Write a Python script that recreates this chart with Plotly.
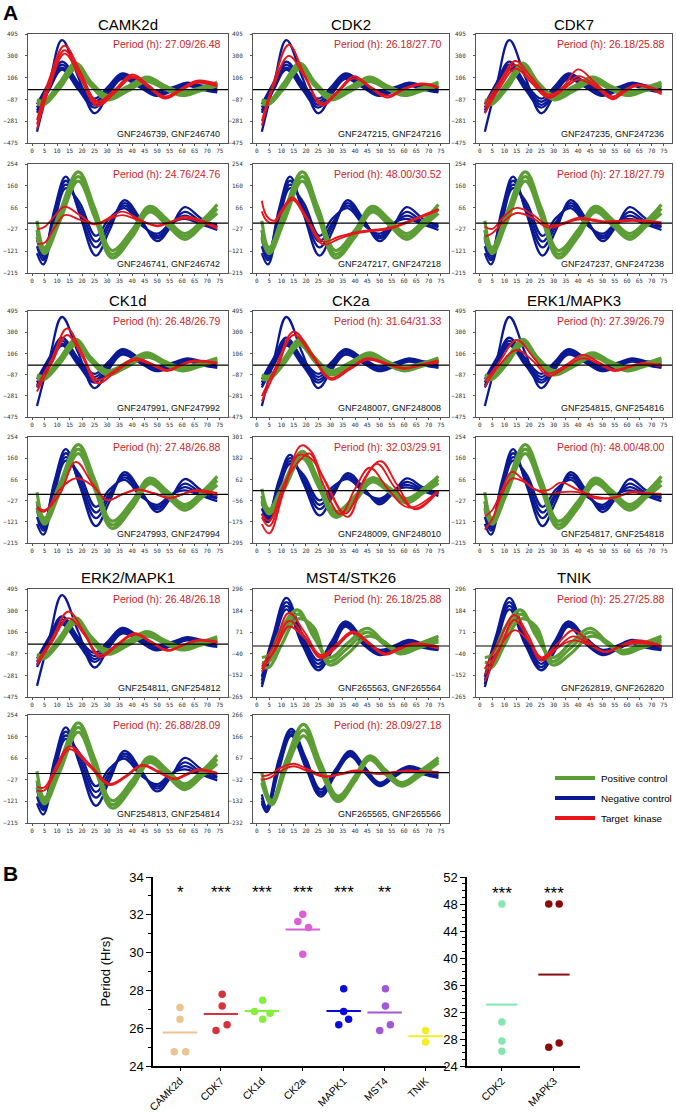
import plotly.graph_objects as go
import numpy as np

W, H = 676, 1112
FONT = "Arial, Liberation Sans, Helvetica, sans-serif"
MONO = "DejaVu Sans Mono, monospace"

# ---------------- Panel A data ----------------
X_TICKS = list(range(0, 80, 5))

YT_A = [-475, -281, -87, 106, 300, 495]
YT_B = [-215, -121, -27, 66, 160, 254]
YT_C = [-265, -152, -40, 71, 184, 296]
YT_D = [-295, -175, -56, 62, 182, 301]
YT_E = [-232, -132, -32, 67, 166, 266]

# control curves (positive = green, negative = blue) per plate type
A_GREEN_T = [2, 5, 11, 17.5, 23.5, 30, 38, 46, 53, 60, 67, 74]
A_GREEN = [
    [-90, -100, 60, 235, 70, -50, 25, 112, 35, -18, 15, 65],
    [-110, -115, 35, 210, 50, -70, 5, 92, 20, -35, 0, 50],
    [-130, -130, 10, 185, 35, -90, -15, 72, 5, -52, -12, 35],
]
A_BLUE_T = [2, 7, 12, 18.5, 25, 30.5, 36, 43, 49.5, 56, 62, 68, 74]
A_BLUE = [
    [-375, 60, 440, 110, -210, -40, 135, 55, -40, 5, 55, 25, -10],
    [-130, 70, 250, 60, -80, 30, 145, 65, -12, 20, 62, 35, 25],
    [-160, 45, 222, 40, -108, 5, 125, 48, -30, 8, 50, 18, 5],
    [-185, 20, 195, 20, -135, -20, 108, 32, -45, -5, 40, 5, -12],
    [-205, 5, 178, 0, -160, -38, 95, 22, -55, -14, 33, -2, -25],
]

B_GREEN_T = [2, 5, 11, 18.5, 25, 32, 40, 47, 54, 61, 68, 74]
B_GREEN = [
    [10, -105, 45, 220, 65, -118, -30, 72, 15, -45, 12, 80],
    [-30, -118, 25, 200, 45, -135, -45, 60, 2, -58, 0, 62],
    [-60, -132, 5, 180, 25, -150, -60, 48, -10, -70, -12, 42],
]
B_BLUE_T = [2, 4.5, 9, 13.5, 19, 25.5, 31, 37, 43.5, 50, 55.5, 61, 67.5, 74]
B_BLUE = [
    [-35, -150, 60, 200, 40, -140, -30, 98, 15, -78, -15, 68, 20, -15],
    [-70, -140, 45, 182, 50, -105, -10, 86, 8, -66, -10, 48, 8, -5],
    [-100, -160, 25, 165, 70, -80, 5, 75, 0, -56, -5, 32, 0, -18],
    [-130, -178, 5, 150, 88, -55, 22, 64, -8, -46, 0, 18, -5, -30],
]

C_GREEN_T = [2, 5, 10, 16.5, 23, 29.5, 37, 45, 51.5, 58, 66, 74]
C_GREEN = [
    [-60, -45, 90, 188, 50, -60, 15, 92, 25, -22, 12, 50],
    [-85, -80, 50, 165, 75, -80, -10, 72, 12, -30, 0, 35],
    [-110, -110, 5, 140, 100, -98, -40, 50, 25, -40, -10, 22],
]
C_BLUE_T = [2, 6.5, 12, 18.5, 25, 30.5, 36, 43, 50, 56, 62, 68, 74]
C_BLUE = [
    [-160, 50, 250, 60, -75, 25, 128, 45, -20, 2, 31, 10, -5],
    [-180, 28, 228, 40, -93, 7, 118, 32, -31, -5, 24, 3, -11],
    [-197, 10, 208, 22, -110, -10, 109, 20, -40, -12, 18, -4, -16],
    [-213, -10, 190, 5, -126, -28, 101, 12, -47, -18, 14, -10, -21],
]

E_GREEN_T = [2, 6, 12, 19, 26, 33, 40, 46, 52.5, 59, 67, 74]
E_GREEN = [
    [0, -128, 60, 223, 45, -108, -15, 78, 12, -46, 12, 70],
    [-25, -138, 40, 196, 25, -120, -28, 69, 2, -55, 0, 58],
    [-47, -148, 20, 170, 5, -132, -40, 60, -8, -62, -10, 46],
]
E_BLUE_T = [2, 4, 9, 14, 20, 26, 32, 38, 44, 50, 56, 62, 68, 74]
E_BLUE = [
    [-100, -158, 65, 202, 65, -78, 15, 100, 25, -46, -3, 30, 12, 0],
    [-115, -166, 48, 190, 50, -90, 6, 91, 16, -52, -9, 24, 5, -8],
    [-130, -175, 30, 178, 34, -100, -3, 83, 7, -58, -15, 19, -2, -16],
    [-142, -182, 15, 170, 20, -110, -10, 76, 0, -62, -20, 15, -8, -24],
]

# target kinase (red) curves, per panel
CAMK2D_1_T = [2, 7, 13, 19.5, 26, 33, 40, 46.5, 53, 59.5, 66, 74]
CAMK2D_1 = [[-270, 100, 390, 150, -105, 0, 135, 40, -60, 10, 80, 50],
            [-310, 60, 350, 120, -125, -15, 120, 30, -70, 0, 70, 40],
            [-350, 20, 320, 90, -145, -30, 105, 20, -80, -10, 60, 30]]
CDK2_1_T = [2, 7, 13, 19.5, 26.5, 33, 39.5, 46, 53, 60, 67, 74]
CDK2_1 = [[-280, 80, 400, 130, -120, -10, 120, 30, -55, 10, 55, 25],
          [-320, 40, 300, 110, -140, -25, 100, 20, -70, 0, 45, 15]]
CDK7_1_T = [2, 8, 14.5, 21, 28, 34, 40, 47, 54, 59, 64, 74]
CDK7_1 = [[-130, 70, 255, 110, -45, 30, 180, 60, -60, 0, 45, -15],
          [-170, 40, 220, 80, -60, 15, 120, 40, -75, -10, 40, -30],
          [-210, 10, 185, 60, -75, 0, 90, 25, -85, -20, 35, -40]]
CAMK2D_2_T = [2, 5, 9, 13, 19, 25, 30.5, 36, 43, 50, 55.5, 61, 74]
CAMK2D_2 = [[-27, -17, 30, 70, 35, -5, 20, 49, 15, -14, 5, 27, -17],
            [-90, -85, -20, 34, 15, -5, 15, 34, 10, -10, 5, 20, -24]]
CDK2_2_T = [2, 4, 7, 10, 14.5, 20, 27, 33, 40, 47, 54, 61, 68, 74]
CDK2_2 = [[96, 30, 10, 55, 110, 30, -80, -60, -40, -30, -20, 5, 35, 60],
          [50, 10, 0, 45, 100, 20, -92, -70, -45, -35, -25, 0, 30, 55]]
CDK7_2_T = [2, 5, 10, 15, 21, 28, 34, 40, 46, 51, 57, 62, 68, 74]
CDK7_2 = [[-15, -25, 30, 65, 40, -10, 0, 22, 15, 7, 10, 14, 10, 3],
          [-58, -44, 10, 43, 25, -20, -5, 15, 10, 3, 5, 10, 5, -5]]
CK1D_1_T = [2, 8, 14, 20, 26, 33.5, 41, 47.5, 54, 59, 64, 74]
CK1D_1 = [[-196, 60, 335, 110, -135, -40, 62, 15, -44, 0, 40, 22],
          [-242, 20, 275, 80, -165, -60, 45, 5, -55, -10, 30, 12]]
CK2A_1_T = [2, 8, 15, 22.5, 30, 37.5, 45, 52.5, 60, 67, 74]
CK2A_1 = [[-284, 0, 305, 100, -118, -30, 63, 20, -27, 5, 42],
          [-329, -40, 275, 80, -133, -45, 48, 10, -35, 0, 24]]
ERK1_1_T = [2, 8, 15, 21.5, 28, 35, 42, 48.5, 55, 60.5, 66, 74]
ERK1_1 = [[-150, 30, 229, 80, -75, 0, 92, 25, -44, -15, 17, 3],
          [-196, 0, 138, 40, -99, -20, 62, 10, -55, -20, 10, -10]]
CK1D_2_T = [2, 5, 11, 17.5, 24, 30, 36, 42, 48.5, 55, 60, 65, 74]
CK1D_2 = [[-54, -70, 0, 144, 50, -25, 0, 22, 5, -17, 0, 19, 5],
          [-61, -76, 20, 71, 40, -25, 0, 20, 5, -15, 0, 15, -5]]
CK2A_2_T = [[2, 5, 11, 18, 22, 27, 37, 44, 50.5, 57, 64.5, 74],
            [2, 5, 11, 16, 21.5, 27, 34, 40, 46, 54, 62, 74],
            [2, 5, 11, 17, 22, 28, 36, 43, 49, 56, 64, 74]]
CK2A_2 = [[-189, -241, -2, 253, 221, 72, -148, 72, 165, 35, -105, -2],
          [-133, -170, 35, 146, 208, 35, -133, 10, 128, -2, -96, 1],
          [-150, -200, 10, 200, 180, 50, -130, 40, 150, 20, -100, 0]]
ERK1_2_T = [2, 5, 9, 13, 18, 23, 28, 33, 40, 47, 54, 62, 68, 74]
ERK1_2 = [[-98, -70, 20, 100, 60, 20, 20, 52, 20, -10, -17, 12, 5, 2],
          [-156, -110, 0, 70, 55, 19, 0, 10, 10, -17, -15, 8, 5, -3]]
ERK2_1_T = [2, 8, 14.5, 21, 27, 34, 41, 47.5, 54, 60, 66, 74]
ERK2_1 = [[-158, 50, 293, 100, -98, 0, 98, 25, -53, -10, 37, 22],
          [-188, 20, 233, 80, -119, -15, 85, 15, -60, -15, 30, 12]]
MST4_1_T = [2, 7.5, 13, 19.5, 26, 32.5, 39, 45.5, 52, 58, 64, 74]
MST4_1 = [[-108, 20, 171, 70, -47, 10, 75, 20, -38, -10, 14, -4],
          [-134, -10, 130, 50, -56, 0, 70, 15, -42, -15, 10, -10],
          [-120, -20, 101, 40, -65, -5, 66, 10, -45, -18, 8, -14]]
TNIK_1_T = [2, 8, 14, 19.5, 25, 31.5, 38, 44.5, 51, 57, 63, 74]
TNIK_1 = [[-120, 30, 161, 60, -59, 10, 82, 20, -32, 0, 29, 2],
          [-182, -20, 135, 40, -76, -10, 50, 10, -32, -5, 20, -5],
          [-150, -10, 82, 30, -65, -10, 29, 5, -30, -5, 15, 0]]
ERK2_2_T = [2, 5, 10, 15, 23, 31, 37.5, 44, 50.5, 57, 62, 66, 74]
ERK2_2 = [[-58, -60, 40, 118, 40, -44, -10, 37, 10, -22, 0, 18, 3],
          [-73, -73, 20, 105, 30, -50, -15, 33, 5, -25, -5, 14, -3]]
MST4_2_T = [2, 5, 10, 15, 21, 28, 34, 40, 45, 50, 56, 62, 68, 74]
MST4_2 = [[-16, -10, 25, 41, 15, -16, -5, 10, 3, -4, 3, 10, 5, 2],
          [-32, -25, 10, 30, 5, -20, -8, 5, 0, -6, 0, 8, 3, -3]]

PERIODS = ["27.09/26.48", "26.18/27.70", "26.18/25.88",
           "24.76/24.76", "48.00/30.52", "27.18/27.79",
           "26.48/26.79", "31.64/31.33", "27.39/26.79",
           "27.48/26.88", "32.03/29.91", "48.00/48.00",
           "26.48/26.18", "26.18/25.88", "25.27/25.88",
           "26.88/28.09", "28.09/27.18"]
GNF_IDS = ["GNF246739, GNF246740", "GNF247215, GNF247216", "GNF247235, GNF247236",
           "GNF246741, GNF246742", "GNF247217, GNF247218", "GNF247237, GNF247238",
           "GNF247991, GNF247992", "GNF248007, GNF248008", "GNF254815, GNF254816",
           "GNF247993, GNF247994", "GNF248009, GNF248010", "GNF254817, GNF254818",
           "GNF254811, GNF254812", "GNF265563, GNF265564", "GNF262819, GNF262820",
           "GNF254813, GNF254814", "GNF265565, GNF265566"]
KINASE_TITLES = ["CAMK2d", "CDK2", "CDK7", "CK1d", "CK2a", "ERK1/MAPK3",
                 "ERK2/MAPK1", "MST4/STK26", "TNIK"]

# ---------------- Panel B data ----------------
CATS_L = ["CAMK2d", "CDK7", "CK1d", "CK2a", "MAPK1", "MST4", "TNIK"]
PER_L = [[27.09, 26.48, 24.76, 24.76], [27.79, 27.18, 26.18, 25.88],
         [27.48, 26.88, 26.79, 26.48], [32.03, 31.64, 31.33, 29.91],
         [28.09, 26.88, 26.48, 26.18], [28.09, 27.18, 26.18, 25.88],
         [25.88, 25.27]]
SIG_L = ["*", "***", "***", "***", "***", "**", ""]
CATS_R = ["CDK2", "MAPK3"]
PER_R = [[48.00, 30.52, 27.70, 26.18], [48.00, 48.00, 27.39, 26.79]]
SIG_R = ["***", "***"]

# ---------------- styling ----------------
GREEN = "#5C9E35"
BLUE = "#0B1A94"
RED = "#E5171D"
COLORS_L = ["#EBC48F", "#D6343C", "#84F03C", "#DD5FD8", "#0A0ADC", "#A257D6", "#F5EC2A"]
COLORS_R = ["#85E6B0", "#8B0A0A"]
JIT_L = [[0, 0, -0.14, 0.14], [0.03, 0.03, 0.15, -0.12], [0.02, -0.18, 0.2, 0.02],
         [0, -0.12, 0.14, 0], [0, 0, 0.12, -0.12], [0.02, 0.02, 0.14, -0.12], [0, 0]]
JIT_R = [[0, 0, 0, 0], [-0.1, 0.1, 0.1, -0.1]]

COL_X = [(28, 228), (253, 449), (476, 672)]
ROW_Y = [(34, 143), (164, 273), (311, 417), (437, 543), (589, 697), (715, 823)]

CTRL = {
    "A": (A_GREEN_T, A_GREEN, A_BLUE_T, A_BLUE, YT_A),
    "B": (B_GREEN_T, B_GREEN, B_BLUE_T, B_BLUE, YT_B),
    "C": (C_GREEN_T, C_GREEN, C_BLUE_T, C_BLUE, YT_C),
    "D": (B_GREEN_T, B_GREEN, B_BLUE_T, B_BLUE, YT_D),
    "E": (E_GREEN_T, E_GREEN, E_BLUE_T, E_BLUE, YT_E),
}

PANELS = [  # (row, col, plate type, red t, red curves)
    (0, 0, "A", CAMK2D_1_T, CAMK2D_1), (0, 1, "A", CDK2_1_T, CDK2_1), (0, 2, "A", CDK7_1_T, CDK7_1),
    (1, 0, "B", CAMK2D_2_T, CAMK2D_2), (1, 1, "B", CDK2_2_T, CDK2_2), (1, 2, "B", CDK7_2_T, CDK7_2),
    (2, 0, "A", CK1D_1_T, CK1D_1), (2, 1, "A", CK2A_1_T, CK2A_1), (2, 2, "A", ERK1_1_T, ERK1_1),
    (3, 0, "B", CK1D_2_T, CK1D_2), (3, 1, "D", CK2A_2_T, CK2A_2), (3, 2, "B", ERK1_2_T, ERK1_2),
    (4, 0, "A", ERK2_1_T, ERK2_1), (4, 1, "C", MST4_1_T, MST4_1), (4, 2, "C", TNIK_1_T, TNIK_1),
    (5, 0, "B", ERK2_2_T, ERK2_2), (5, 1, "E", MST4_2_T, MST4_2),
]


def xd(a, b):
    return [a / W, b / W]


def yd(top, bottom):
    return [1 - bottom / H, 1 - top / H]


fig = go.Figure()
layout = {}
shapes = []
annotations = []

for i, (r, c, ptype, rt, rv) in enumerate(PANELS):
    n = i + 1
    xname = "x" if n == 1 else f"x{n}"
    yname = "y" if n == 1 else f"y{n}"
    gt, gv, bt, bv, yt = CTRL[ptype]
    for curve in bv:
        fig.add_trace(go.Scatter(x=bt, y=curve, mode="lines", xaxis=xname, yaxis=yname,
                                 line=dict(color=BLUE, width=2.3, shape="spline", smoothing=1.1),
                                 showlegend=False, hoverinfo="skip"))
    for curve in gv:
        fig.add_trace(go.Scatter(x=gt, y=curve, mode="lines", xaxis=xname, yaxis=yname,
                                 line=dict(color=GREEN, width=3.2, shape="spline", smoothing=1.1),
                                 showlegend=False, hoverinfo="skip"))
    for k, curve in enumerate(rv):
        tt = rt[k] if isinstance(rt[0], list) else rt
        fig.add_trace(go.Scatter(x=tt, y=curve, mode="lines", xaxis=xname, yaxis=yname,
                                 line=dict(color=RED, width=1.9, shape="spline", smoothing=1.1),
                                 showlegend=False, hoverinfo="skip"))
    x0, x1 = COL_X[c]
    y0, y1 = ROW_Y[r]
    layout["xaxis" if n == 1 else f"xaxis{n}"] = dict(
        domain=xd(x0, x1), anchor=yname, range=[-1.6, 78.3], automargin=False,
        tickvals=X_TICKS, ticks="outside", ticklen=2, tickcolor="#555",
        tickfont=dict(family=MONO, size=6, color="#333"),
        showline=True, mirror=True, linecolor="#555", linewidth=1,
        showgrid=False, zeroline=False, fixedrange=True)
    layout["yaxis" if n == 1 else f"yaxis{n}"] = dict(
        domain=yd(y0, y1), anchor=xname, range=[yt[0], yt[-1]], automargin=False,
        tickvals=yt, ticks="outside", ticklen=2, tickcolor="#555",
        tickfont=dict(family=MONO, size=6, color="#333"), ticklabelstandoff=6,
        showline=True, mirror=True, linecolor="#555", linewidth=1,
        showgrid=False, zeroline=False, fixedrange=True)
    shapes.append(dict(type="line", xref=f"{xname} domain", yref=yname, x0=0, x1=1, y0=0, y1=0,
                       line=dict(color="black", width=1.2), layer="above"))
    annotations.append(dict(x=(x1 - 5) / W, y=1 - (y0 + 10) / H, xref="paper", yref="paper",
                            text="Period (h): " + PERIODS[i], showarrow=False,
                            xanchor="right", yanchor="middle",
                            font=dict(family=FONT, size=10.5, color="#C8262C")))
    annotations.append(dict(x=(x1 - 6) / W, y=1 - (y1 - 9) / H, xref="paper", yref="paper",
                            text=GNF_IDS[i], showarrow=False, xanchor="right", yanchor="middle",
                            font=dict(family=FONT, size=9, color="#111")))

# kinase titles
TITLE_Y = [25, 300, 577]
for k, name in enumerate(KINASE_TITLES):
    c = k % 3
    yy = TITLE_Y[k // 3]
    x0, x1 = COL_X[c]
    annotations.append(dict(x=(x0 + x1) / 2 / W, y=1 - yy / H, xref="paper", yref="paper",
                            text=name, showarrow=False, xanchor="center", yanchor="middle",
                            font=dict(family=FONT, size=15, color="black")))

# legend (manual)
LEG_LABELS = ["Positive control", "Negative control", "Target\u00a0 kinase"]
LEG_COLORS = [GREEN, BLUE, RED]
for k, (lab, col) in enumerate(zip(LEG_LABELS, LEG_COLORS)):
    yy = 778 + 20 * k
    shapes.append(dict(type="line", xref="paper", yref="paper", x0=555 / W, x1=595 / W,
                       y0=1 - yy / H, y1=1 - yy / H, line=dict(color=col, width=4)))
    annotations.append(dict(x=599 / W, y=1 - yy / H, xref="paper", yref="paper", text=lab,
                            showarrow=False, xanchor="left", yanchor="middle",
                            font=dict(family=FONT, size=9.8, color="black")))

# panel letters
annotations.append(dict(x=1 / W, y=1 - 12 / H, xref="paper", yref="paper", text="<b>A</b>",
                        showarrow=False, xanchor="left", yanchor="middle",
                        font=dict(family=FONT, size=21, color="black")))
annotations.append(dict(x=1 / W, y=1 - 873 / H, xref="paper", yref="paper", text="<b>B</b>",
                        showarrow=False, xanchor="left", yanchor="middle",
                        font=dict(family=FONT, size=21, color="black")))

# ---------------- Panel B ----------------
NL = len(PANELS) + 1
NR = NL + 1


def scatter_group(cats, pers, jits, colors, sigs, n, sig_y, half):
    xname, yname = f"x{n}", f"y{n}"
    for i, (vals, jit, col) in enumerate(zip(pers, jits, colors)):
        fig.add_trace(go.Scatter(x=[i + j for j in jit], y=vals, mode="markers", xaxis=xname, yaxis=yname,
                                 marker=dict(color=col, size=7.5, line=dict(width=0)),
                                 showlegend=False, hoverinfo="skip"))
        m = float(np.mean(vals))
        fig.add_trace(go.Scatter(x=[i - half, i + half], y=[m, m], mode="lines", xaxis=xname, yaxis=yname,
                                 line=dict(color=col, width=2), showlegend=False, hoverinfo="skip"))
        if sigs[i]:
            annotations.append(dict(x=i, y=sig_y, xref=xname, yref=yname, text=sigs[i], showarrow=False,
                                    xanchor="center", yanchor="middle",
                                    font=dict(family=FONT, size=17, color="black")))


scatter_group(CATS_L, PER_L, JIT_L, COLORS_L, SIG_L, NL, 33.2, 0.42)
scatter_group(CATS_R, PER_R, JIT_R, COLORS_R, SIG_R, NR, 49.5, 0.3)

axis_b = dict(showline=True, linecolor="black", linewidth=1.5, showgrid=False, zeroline=False,
              ticks="outside", ticklen=5, tickwidth=1.2, tickcolor="black", fixedrange=True,
              automargin=False)
layout[f"xaxis{NL}"] = dict(axis_b, domain=xd(153, 446), anchor=f"y{NL}", range=[-0.66, 6.5],
                            tickvals=list(range(len(CATS_L))), ticktext=CATS_L, tickangle=-45,
                            ticklen=3, tickfont=dict(family=FONT, size=10.5, color="black"))
layout[f"yaxis{NL}"] = dict(axis_b, domain=yd(877, 1066), anchor=f"x{NL}", range=[24, 34],
                            tickvals=list(range(24, 35, 2)),
                            minor=dict(dtick=1, ticks="outside", ticklen=3, tickcolor="black"),
                            tickfont=dict(family=FONT, size=13, color="black"),
                            title=dict(text="Period (Hrs)", standoff=16,
                                       font=dict(family=FONT, size=13, color="black")))
layout[f"xaxis{NR}"] = dict(axis_b, domain=xd(467, 580), anchor=f"y{NR}", range=[-0.67, 1.5],
                            tickvals=[0, 1], ticktext=CATS_R, tickangle=-45,
                            ticklen=3, tickfont=dict(family=FONT, size=10.5, color="black"))
layout[f"yaxis{NR}"] = dict(axis_b, domain=yd(877, 1066), anchor=f"x{NR}", range=[24, 52],
                            tickvals=list(range(24, 53, 4)),
                            minor=dict(dtick=1, ticks="outside", ticklen=3, tickcolor="black"),
                            tickfont=dict(family=FONT, size=13, color="black"))

fig.update_layout(width=W, height=H, margin=dict(l=0, r=0, t=0, b=0, autoexpand=False),
                  paper_bgcolor="white", plot_bgcolor="white",
                  shapes=shapes, annotations=annotations, showlegend=False, **layout)

fig.write_html("out.html", config={"displayModeBar": False},
               post_script="document.body.style.margin='0';document.body.style.overflow='hidden';")
